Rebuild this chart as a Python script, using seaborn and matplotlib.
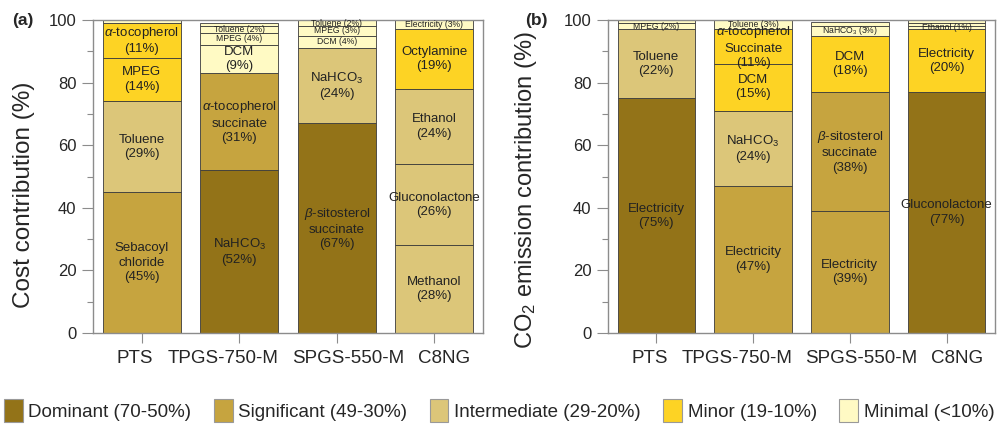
import matplotlib
matplotlib.use("Agg")
import matplotlib.pyplot as plt
import matplotlib.transforms as mtransforms
from matplotlib.patches import Patch
import seaborn as sns

sns.set_theme(style="white")
plt.rcParams["font.family"] = ["Liberation Sans", "DejaVu Sans"]
plt.rcParams["mathtext.fontset"] = "custom"
plt.rcParams["mathtext.rm"] = "Liberation Sans"
plt.rcParams["mathtext.it"] = "Liberation Sans:italic"
plt.rcParams["mathtext.bf"] = "Liberation Sans:bold"

products = ["PTS", "TPGS-750-M", "SPGS-550-M", "C8NG"]
# horizontal nudge of each category label (pixels) so the long names don't collide
label_shift_px = [-7, -16, 11.5, 10]

levels = ["Dominant (70-50%)", "Significant (49-30%)", "Intermediate (29-20%)",
          "Minor (19-10%)", "Minimal (<10%)"]
level_colors = ["#937318", "#C6A43F", "#DCC679", "#FDD324", "#FFFAC4"]

# Cost contribution, stacked bottom -> top (None = unlabelled sliver)
cost_names = [
    ["Sebacoyl\nchloride", "Toluene", "MPEG", r"$\alpha$-tocopherol", None],
    [r"NaHCO$_3$", "$\\alpha$-tocopherol\nsuccinate", "DCM", "MPEG", "Toluene", None],
    ["$\\beta$-sitosterol\nsuccinate", r"NaHCO$_3$", "DCM", "MPEG", "Toluene", None],
    ["Methanol", "Gluconolactone", "Ethanol", "Octylamine", "Electricity"],
]
cost_values = [
    [45, 29, 14, 11, 1],
    [52, 31, 9, 4, 2, 1],
    [67, 24, 4, 3, 2, 0.5],
    [28, 26, 24, 19, 3],
]
cost_levels = [
    [1, 2, 3, 3, 4],
    [0, 1, 4, 4, 4, 4],
    [0, 2, 4, 4, 4, 4],
    [2, 2, 2, 3, 4],
]

# CO2 emission contribution, stacked bottom -> top
co2_names = [
    ["Electricity", "Toluene", "MPEG", None],
    ["Electricity", r"NaHCO$_3$", "DCM", "$\\alpha$-tocopherol\nSuccinate", "Toluene"],
    ["Electricity", "$\\beta$-sitosterol\nsuccinate", "DCM", r"NaHCO$_3$", None],
    ["Gluconolactone", "Electricity", "Ethanol", None, None],
]
co2_values = [
    [75, 22, 2, 1],
    [47, 24, 15, 11, 3],
    [39, 38, 18, 3, 1.5],
    [77, 20, 1, 1, 1],
]
co2_levels = [
    [0, 2, 4, 4],
    [1, 2, 3, 3, 4],
    [1, 1, 3, 4, 4],
    [0, 3, 4, 4, 4],
]

edge = "#3a3a3a"
frame = "#8c8c8c"


def draw_panel(ax, names, values, lvls, ylabel, label_size, label_xy, tag, tag_x):
    width = 0.8
    for i, (nm, vals, lv) in enumerate(zip(names, values, lvls)):
        bottom = 0.0
        for name, v, l in zip(nm, vals, lv):
            ax.bar(i, v, width=width, bottom=bottom, color=level_colors[l],
                   edgecolor=edge, linewidth=0.6, zorder=2)
            if name is not None:
                if v < 5:
                    txt = f"{name} ({v:g}%)"
                    ax.text(i, bottom + v / 2, txt, ha="center", va="center",
                            fontsize=6.2, color="#222222", zorder=3)
                else:
                    txt = f"{name}\n({v:g}%)"
                    ax.text(i, bottom + v / 2, txt, ha="center", va="center",
                            fontsize=9.5, color="#222222", zorder=3,
                            linespacing=1.25)
            bottom += v
    ax.set_xlim(-0.5, 3.5)
    ax.set_ylim(0, 100)
    ax.set_xticks(range(len(products)))
    ax.set_xticklabels(products, fontsize=13.5)
    ax.set_yticks(range(0, 101, 20))
    ax.set_yticks(range(10, 100, 20), minor=True)
    ax.tick_params(axis="y", which="major", length=8, width=0.8, color=frame,
                   labelsize=12, pad=4, left=True)
    ax.tick_params(axis="y", which="minor", length=4, width=0.8, color=frame,
                   left=True)
    ax.tick_params(axis="x", length=7, width=0.8, color=frame, bottom=True,
                   pad=5)
    # nudge category labels sideways (after tick_params, which resets transforms)
    for lab, dx in zip(ax.get_xticklabels(), label_shift_px):
        lab.set_transform(lab.get_transform() + mtransforms.ScaledTranslation(
            dx / 100.0, 0, ax.figure.dpi_scale_trans))
    for sp in ax.spines.values():
        sp.set_color(frame)
        sp.set_linewidth(1.0)
    ax.set_ylabel(ylabel, fontsize=label_size)
    ax.yaxis.set_label_coords(*label_xy)
    ax.figure.text(tag_x, 0.951, tag, fontsize=12.5, fontweight="bold",
                   ha="left", va="center")


fig = plt.figure(figsize=(9.98, 4.26), dpi=100)
ax1 = fig.add_axes([0.0932, 0.2183, 0.3908, 0.7347])
ax2 = fig.add_axes([0.6092, 0.2183, 0.3878, 0.7347])

draw_panel(ax1, cost_names, cost_values, cost_levels,
           "Cost contribution (%)", 17.5, (-0.15, 0.44), "(a)", 0.012)
draw_panel(ax2, co2_names, co2_values, co2_levels,
           r"CO$_2$ emission contribution (%)", 17, (-0.177, 0.457), "(b)", 0.526)

handles = [Patch(facecolor=c, edgecolor="#999999", linewidth=0.8, label=l)
           for c, l in zip(level_colors, levels)]
fig.legend(handles=handles, loc="lower center", ncol=5, frameon=False,
           fontsize=13.5, bbox_to_anchor=(0.5, -0.03), handlelength=1.0,
           handleheight=1.5, handletextpad=0.3, columnspacing=1.2)

fig.savefig("out.png", dpi=100)
